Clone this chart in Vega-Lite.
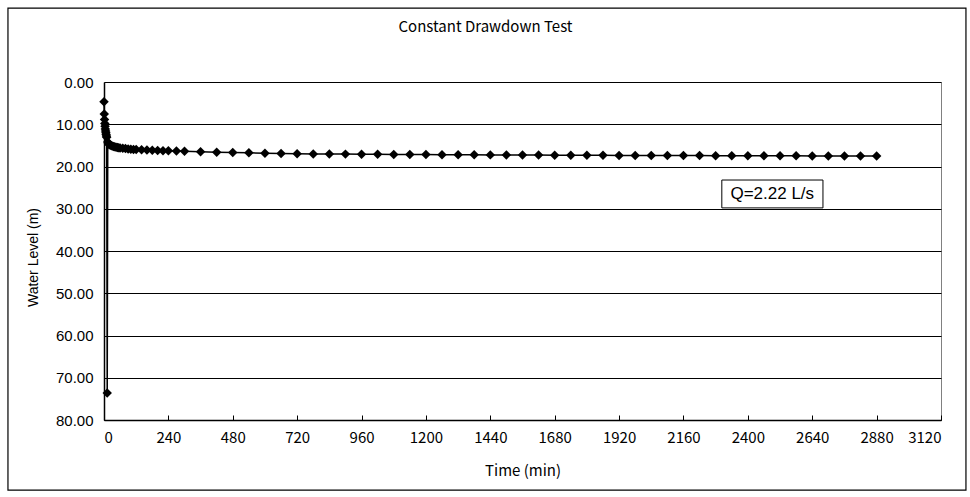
{
  "$schema": "https://vega.github.io/schema/vega-lite/v6.json",
  "width": 837,
  "height": 338,
  "autosize": {"type": "none"},
  "padding": {"left": 104, "top": 82, "right": 29, "bottom": 77},
  "background": "white",
  "config": {
    "view": {"stroke": "#808080", "strokeWidth": 1},
    "axis": {"domainColor": "black", "tickColor": "black", "labelColor": "black", "titleColor": "black"}
  },
  "title": {
    "text": "Constant Drawdown Test",
    "font": "Noto Sans CJK JP",
    "fontSize": 15,
    "fontWeight": "normal",
    "color": "black",
    "anchor": "middle",
    "baseline": "middle",
    "offset": 0,
    "dx": -37,
    "dy": 35
  },
  "datasets": {
    "drawdown": [
      {"t": 0, "level": 4.7},
      {"t": 1, "level": 7.6},
      {"t": 2, "level": 8.9},
      {"t": 3, "level": 9.8},
      {"t": 4, "level": 10.5},
      {"t": 5, "level": 11.1},
      {"t": 6, "level": 11.6},
      {"t": 7, "level": 12.0},
      {"t": 8, "level": 12.4},
      {"t": 9, "level": 12.8},
      {"t": 10, "level": 13.1},
      {"t": 12, "level": 73.6},
      {"t": 14, "level": 14.2},
      {"t": 16, "level": 14.5},
      {"t": 18, "level": 14.7},
      {"t": 20, "level": 14.85},
      {"t": 25, "level": 15.0},
      {"t": 30, "level": 15.15},
      {"t": 35, "level": 15.25},
      {"t": 40, "level": 15.35},
      {"t": 45, "level": 15.45},
      {"t": 50, "level": 15.5},
      {"t": 55, "level": 15.55},
      {"t": 60, "level": 15.6},
      {"t": 70, "level": 15.7},
      {"t": 80, "level": 15.75},
      {"t": 90, "level": 15.85},
      {"t": 100, "level": 15.9},
      {"t": 110, "level": 15.95},
      {"t": 120, "level": 16.0},
      {"t": 140, "level": 16.05},
      {"t": 160, "level": 16.1},
      {"t": 180, "level": 16.15},
      {"t": 200, "level": 16.2},
      {"t": 220, "level": 16.25},
      {"t": 240, "level": 16.3},
      {"t": 270, "level": 16.35},
      {"t": 300, "level": 16.4},
      {"t": 360, "level": 16.5},
      {"t": 420, "level": 16.6},
      {"t": 480, "level": 16.7},
      {"t": 540, "level": 16.75},
      {"t": 600, "level": 16.85},
      {"t": 660, "level": 16.95},
      {"t": 720, "level": 17.0},
      {"t": 780, "level": 17.02},
      {"t": 840, "level": 17.05},
      {"t": 900, "level": 17.07},
      {"t": 960, "level": 17.1},
      {"t": 1020, "level": 17.12},
      {"t": 1080, "level": 17.14},
      {"t": 1140, "level": 17.16},
      {"t": 1200, "level": 17.18},
      {"t": 1260, "level": 17.2},
      {"t": 1320, "level": 17.21},
      {"t": 1380, "level": 17.23},
      {"t": 1440, "level": 17.25},
      {"t": 1500, "level": 17.27},
      {"t": 1560, "level": 17.28},
      {"t": 1620, "level": 17.3},
      {"t": 1680, "level": 17.31},
      {"t": 1740, "level": 17.33},
      {"t": 1800, "level": 17.34},
      {"t": 1860, "level": 17.35},
      {"t": 1920, "level": 17.37},
      {"t": 1980, "level": 17.38},
      {"t": 2040, "level": 17.39},
      {"t": 2100, "level": 17.4},
      {"t": 2160, "level": 17.41},
      {"t": 2220, "level": 17.42},
      {"t": 2280, "level": 17.43},
      {"t": 2340, "level": 17.44},
      {"t": 2400, "level": 17.45},
      {"t": 2460, "level": 17.46},
      {"t": 2520, "level": 17.47},
      {"t": 2580, "level": 17.48},
      {"t": 2640, "level": 17.49},
      {"t": 2700, "level": 17.5},
      {"t": 2760, "level": 17.5},
      {"t": 2820, "level": 17.51},
      {"t": 2880, "level": 17.52}
    ],
    "note": [
      {"x1": 2303, "x2": 2680, "y1": 23.2, "y2": 29.8, "xc": 2491, "yc": 26.5, "label": "Q=2.22 L/s"}
    ],
    "frame": [
      {"x1": -358, "x2": 3213, "y1": -17.5, "y2": 96.6}
    ]
  },
  "layer": [
    {
      "data": {"name": "frame"},
      "mark": {"type": "rect", "fill": null, "fillOpacity": 0, "stroke": "black", "strokeWidth": 1.2, "clip": false},
      "encoding": {
        "x": {"field": "x1", "type": "quantitative"},
        "x2": {"field": "x2"},
        "y": {"field": "y1", "type": "quantitative"},
        "y2": {"field": "y2"}
      }
    },
    {
      "data": {"name": "drawdown"},
      "mark": {
        "type": "line",
        "color": "black",
        "strokeWidth": 1.5,
        "point": {"shape": "diamond", "size": 90, "filled": true, "color": "black", "opacity": 1}
      },
      "encoding": {
        "x": {
          "field": "t",
          "type": "quantitative",
          "scale": {"domain": [0, 3120], "nice": false, "zero": false},
          "axis": {
            "title": "Time (min)",
            "values": [0, 240, 480, 720, 960, 1200, 1440, 1680, 1920, 2160, 2400, 2640, 2880, 3120],
            "format": "d",
            "grid": false,
            "tickSize": -5,
            "labelPadding": 15,
            "labelFont": "Noto Sans CJK JP",
            "labelFontSize": 15,
            "titleFont": "Noto Sans CJK JP",
            "titleFontSize": 15,
            "titleFontWeight": "normal",
            "titleBaseline": "middle",
            "titleY": 50,
            "domainWidth": 1.5
          }
        },
        "y": {
          "field": "level",
          "type": "quantitative",
          "scale": {"domain": [0, 80], "reverse": true, "nice": false, "zero": false},
          "axis": {
            "title": "Water Level (m)",
            "values": [0, 10, 20, 30, 40, 50, 60, 70, 80],
            "format": ".2f",
            "grid": true,
            "gridColor": "black",
            "gridOpacity": 1,
            "gridWidth": 1,
            "ticks": false,
            "labelPadding": 11,
            "labelFont": "Liberation Sans",
            "labelFontSize": 15,
            "titleFont": "Liberation Sans",
            "titleFontSize": 14,
            "titleFontWeight": "normal",
            "titleX": -71,
            "titleY": 175,
            "titleBaseline": "middle",
            "domainWidth": 1.5
          }
        }
      }
    },
    {
      "data": {"name": "note"},
      "mark": {"type": "rect", "fill": "white", "stroke": "black", "strokeWidth": 1},
      "encoding": {
        "x": {"field": "x1", "type": "quantitative"},
        "x2": {"field": "x2"},
        "y": {"field": "y1", "type": "quantitative"},
        "y2": {"field": "y2"}
      }
    },
    {
      "data": {"name": "note"},
      "mark": {"type": "text", "font": "Liberation Sans", "fontSize": 17, "color": "black", "align": "center", "baseline": "middle"},
      "encoding": {
        "x": {"field": "xc", "type": "quantitative"},
        "y": {"field": "yc", "type": "quantitative"},
        "text": {"field": "label"}
      }
    }
  ]
}
